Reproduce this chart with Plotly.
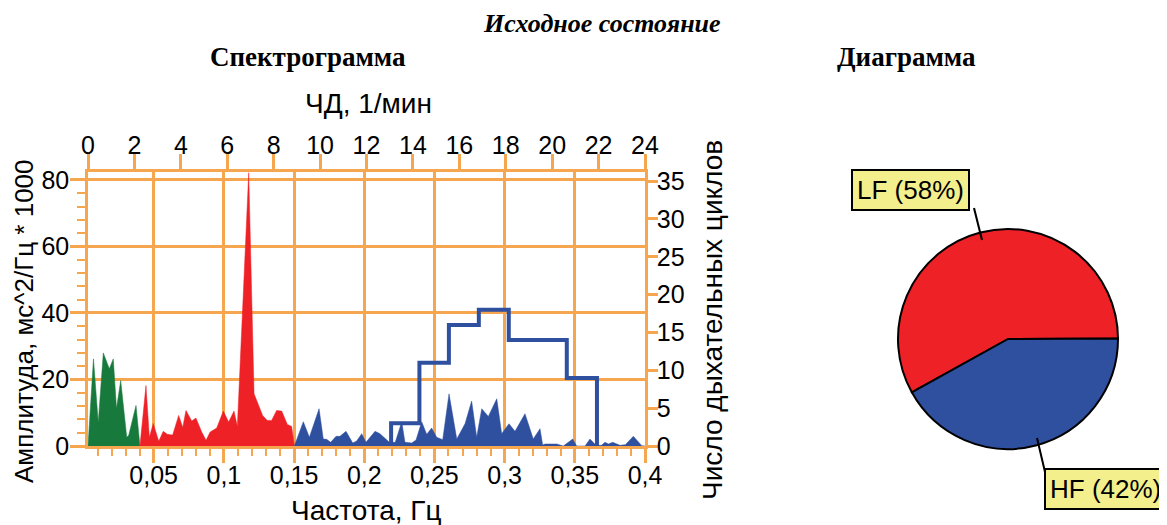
import plotly.graph_objects as go

# ---------------- data ----------------
vlf_freq = [0.0032, 0.0071, 0.0105, 0.0141, 0.0184, 0.0212, 0.0235, 0.0265, 0.0308, 0.0322, 0.0374, 0.0402]
vlf_amp = [0, 26.2, 7.1, 28.0, 23.2, 26.2, 11.3, 19.7, 2.6, 3.2, 12.2, 0]

lf_freq = [0.0402, 0.0445, 0.0469, 0.0497, 0.0536, 0.0568, 0.0597, 0.0635, 0.0678, 0.0707,
           0.0730, 0.0771, 0.0801, 0.0842, 0.0873, 0.0902, 0.0949, 0.0996, 0.1034, 0.1072,
           0.1096, 0.1177, 0.1215, 0.1276, 0.1309, 0.1340, 0.1376, 0.1412, 0.1452, 0.1483, 0.1502]
lf_amp = [0, 18.2, 2.6, 6.8, 1.4, 4.4, 3.5, 3.3, 9.2, 5.6,
          10.7, 7.5, 8.4, 4.2, 1.7, 4.2, 5.4, 10.5, 7.2, 10.5,
          5.9, 82.2, 15.7, 9.2, 7.7, 7.7, 10.7, 10.5, 6.5, 5.9, 0]

hf_freq = [0.1502, 0.1566, 0.1609, 0.1678, 0.1708, 0.1732, 0.1761, 0.1799, 0.1827, 0.1870,
           0.1918, 0.1946, 0.1982, 0.2012, 0.2077, 0.2112, 0.2179, 0.2221, 0.2267, 0.2290,
           0.2338, 0.2369, 0.2409, 0.2445, 0.2480, 0.2516, 0.2559, 0.2604, 0.2659, 0.2718,
           0.2765, 0.2801, 0.2837, 0.2884, 0.2944, 0.2979, 0.3031, 0.3074, 0.3145, 0.3204,
           0.3252, 0.3271, 0.3288, 0.3371, 0.3418, 0.3485, 0.3513, 0.3573, 0.3608, 0.3651,
           0.3690, 0.3715, 0.3740, 0.3770, 0.3822, 0.3860, 0.3917, 0.3977, 0.4000]
hf_amp = [0, 7.3, 2.6, 11.2, 2.1, 2.0, 1.1, 2.9, 2.9, 4.4,
          0.9, 1.5, 3.7, 1.1, 4.4, 3.7, 1.1, 1.1, 7.3, 1.1,
          0.9, 1.8, 7.3, 3.5, 5.4, 2.6, 1.9, 15.7, 2.1, 6.7,
          13.5, 2.6, 11.2, 8.9, 14.2, 3.7, 6.7, 4.4, 9.7, 2.1,
          5.2, 0.3, 0.6, 0.6, 0.0, 2.1, 0.0, 0.0, 2.1, 0.2,
          0.2, 1.1, 0.6, 1.1, 0.2, 0.4, 2.9, 0.1, 0]

# breathing-rate histogram (top axis, 1/min) and counts (right axis)
rate_edges = [13.06, 14.28, 15.55, 16.84, 18.13, 19.40, 20.63, 21.93]
cycle_counts = [3, 11, 16, 18, 14, 14, 9]

# tick labels
freq_ticks = [0.05, 0.10, 0.15, 0.20, 0.25, 0.30, 0.35, 0.40]
freq_tick_labels = ["0,05", "0,1", "0,15", "0,2", "0,25", "0,3", "0,35", "0,4"]
rate_ticks = [0, 2, 4, 6, 8, 10, 12, 14, 16, 18, 20, 22, 24]
amp_ticks = [0, 20, 40, 60, 80]
count_ticks = [0, 5, 10, 15, 20, 25, 30, 35]

# pie
pie_labels = ["LF", "HF"]
pie_values = [58, 42]

# ---------------- style ----------------
W, H = 1167, 525
OFF = 8  # page body margin of the rendered html
ORANGE = "#F7A650"
GREEN = "#177A3C"
RED = "#EE2126"
BLUE = "#2F4F9F"
SANS = "Liberation Sans"
SERIF = "Liberation Serif"


def px(x):
    return (x - OFF) / W


def py(y):
    return 1 - (y - OFF) / H


fig = go.Figure()

for fx, fy, col in [(vlf_freq, vlf_amp, GREEN), (lf_freq, lf_amp, RED), (hf_freq, hf_amp, BLUE)]:
    fig.add_trace(go.Scatter(x=fx, y=fy, mode="lines", fill="tozeroy",
                             line=dict(color=col, width=0.5), fillcolor=col,
                             xaxis="x", yaxis="y", showlegend=False, hoverinfo="x+y"))

step_x = [rate_edges[0]] + rate_edges
step_y = [0] + cycle_counts + [0]
fig.add_trace(go.Scatter(x=step_x, y=step_y, mode="lines", line_shape="hv",
                         line=dict(color=BLUE, width=4), xaxis="x2", yaxis="y2",
                         showlegend=False))

fig.add_trace(go.Pie(labels=pie_labels, values=pie_values, sort=False,
                     direction="clockwise", rotation=241,
                     marker=dict(colors=[RED, BLUE], line=dict(color="black", width=2)),
                     textinfo="none", showlegend=False, automargin=False,
                     domain=dict(x=[px(898), px(1118)], y=[py(449), py(229)])))

tickfont = dict(family=SANS, size=25, color="black")
xdom = [px(88), px(645)]
ydom = [py(446), py(172)]

fig.update_layout(
    width=W, height=H, autosize=False,
    margin=dict(l=0, r=0, t=0, b=0, pad=0, autoexpand=False),
    paper_bgcolor="white", plot_bgcolor="white",
    separators=", ",
    showlegend=False,
    xaxis=dict(domain=xdom, range=[0.0032, 0.4], tickmode="array", tickvals=freq_ticks,
               ticktext=freq_tick_labels, ticks="outside", ticklen=14, tickwidth=2.5,
               tickcolor=ORANGE, showgrid=True, gridcolor=ORANGE, gridwidth=2.5,
               showline=True, linecolor=ORANGE, linewidth=2.5, zeroline=False,
               tickfont=tickfont, anchor="y", automargin=False, ticklabelstandoff=-9,
               minor=dict(dtick=0.01, tick0=0, ticks="outside", ticklen=7,
                          tickcolor=ORANGE, tickwidth=2, showgrid=False)),
    xaxis2=dict(domain=xdom, range=[0, 24], overlaying="x", side="top", anchor="y",
                tickmode="array", tickvals=rate_ticks, ticks="outside", ticklen=15,
                tickwidth=2.5, tickcolor=ORANGE, showgrid=False, showline=True,
                linecolor=ORANGE, linewidth=2.5, zeroline=False, tickfont=tickfont,
                automargin=False, ticklabelstandoff=-10),
    yaxis=dict(domain=ydom, range=[0, 82.4], tickmode="array", tickvals=amp_ticks,
               ticks="outside", ticklen=15, tickwidth=2.5, tickcolor=ORANGE,
               showgrid=True, gridcolor=ORANGE, gridwidth=2.5, showline=True,
               linecolor=ORANGE, linewidth=2.5, zeroline=False, tickfont=tickfont,
               anchor="x", automargin=False, ticklabelstandoff=-4,
               minor=dict(dtick=4, tick0=0, ticks="outside", ticklen=8,
                          tickcolor=ORANGE, tickwidth=2, showgrid=False)),
    yaxis2=dict(domain=ydom, range=[0, 36.2], overlaying="y", side="right", anchor="x",
                tickmode="array", tickvals=count_ticks, ticks="outside", ticklen=10,
                tickwidth=2.5, tickcolor=ORANGE, showgrid=False, showline=True,
                linecolor=ORANGE, linewidth=2.5, zeroline=False, tickfont=tickfont,
                automargin=False, ticklabelstandoff=-6),
)

annotations = [
    dict(text="<b><i>Исходное состояние</i></b>", x=px(602), y=py(24),
         font=dict(family=SERIF, size=26, color="black")),
    dict(text="<b>Спектрограмма</b>", x=px(308), y=py(57),
         font=dict(family=SERIF, size=27, color="black")),
    dict(text="<b>Диаграмма</b>", x=px(906), y=py(57),
         font=dict(family=SERIF, size=27, color="black")),
    dict(text="ЧД, 1/мин", x=px(368), y=py(104), font=dict(family=SANS, size=28, color="black")),
    dict(text="Частота, Гц", x=px(366), y=py(510), font=dict(family=SANS, size=28, color="black")),
    dict(text="Амплитуда, мс^2/Гц * 1000", x=px(24), y=py(321), textangle=-90,
         font=dict(family=SANS, size=26, color="black")),
    dict(text="Число дыхательных циклов", x=px(712), y=py(320), textangle=-90,
         font=dict(family=SANS, size=28, color="black")),
    dict(text=f"{pie_labels[0]} ({pie_values[0]}%)", x=px(910), y=py(190),
         font=dict(family=SANS, size=26, color="black"), bgcolor="#F3EF8C",
         bordercolor="black", borderwidth=2, borderpad=4),
    dict(text=f"{pie_labels[1]} ({pie_values[1]}%)", x=px(1044), y=py(489), xanchor="left",
         font=dict(family=SANS, size=26, color="black"), bgcolor="#F3EF8C",
         bordercolor="black", borderwidth=2, borderpad=4),
]
for a in annotations:
    a.setdefault("xref", "paper")
    a.setdefault("yref", "paper")
    a.setdefault("showarrow", False)
    a.setdefault("xanchor", "center")
    a.setdefault("yanchor", "middle")
fig.update_layout(annotations=annotations)

fig.update_layout(shapes=[
    dict(type="line", xref="paper", yref="paper", x0=px(974), y0=py(208), x1=px(982), y1=py(240),
         line=dict(color="black", width=2)),
    dict(type="line", xref="paper", yref="paper", x0=px(1037), y0=py(438), x1=px(1045), y1=py(472),
         line=dict(color="black", width=2)),
])

fig.write_html("out.html")
